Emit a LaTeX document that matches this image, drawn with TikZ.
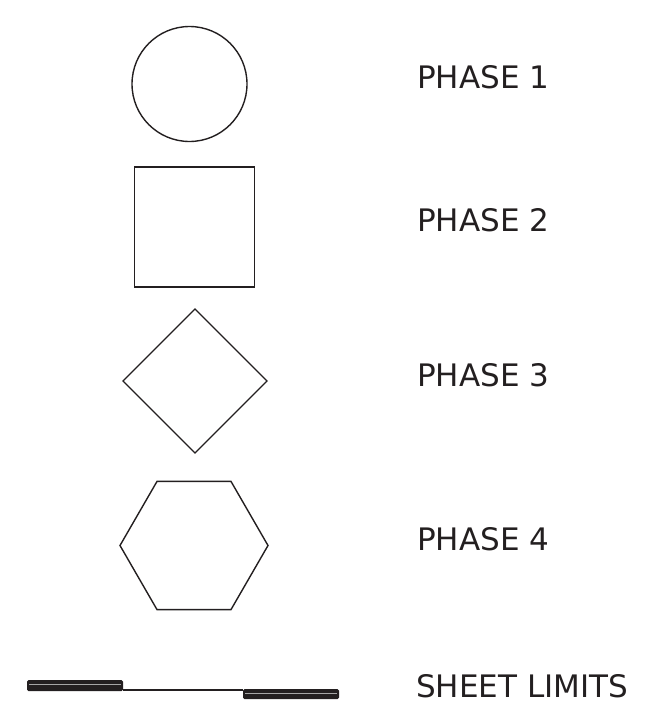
\documentclass[tikz,border=0pt]{standalone}
\usepackage{fontspec}
\setmainfont{DejaVu Sans}
\usepackage{tikz}
\usetikzlibrary{shapes.geometric,positioning}
\definecolor{inkblack}{HTML}{231F20}

\begin{document}
\begin{tikzpicture}[x=1pt, y=-1pt,
    symb/.style={draw=inkblack, line width=1.4pt, inner sep=0pt, outer sep=0pt},
    lbl/.style={anchor=base west, inner sep=0pt, text=inkblack, font=\fontsize{31}{37}\selectfont},
    bar/.style={fill=inkblack, rounded corners=1.5pt},
]
    \useasboundingbox (0,0) rectangle (652,720);
    % Phase symbols
    \node[symb, circle, minimum size=115pt] (phaseone) at (189.5,84) {};
    \node[symb, rectangle, minimum width=120pt, minimum height=120pt] (phasetwo) at (194.5,227) {};
    \node[symb, diamond, minimum width=144pt, minimum height=144pt] (phasethree) at (195,381) {};
    \node[symb, regular polygon, regular polygon sides=6, minimum size=148pt] (phasefour) at (194,545.5) {};
    % Labels
    \node[lbl] (lblone)   at (417,88)  {PHASE 1};
    \node[lbl] (lbltwo)   at (417,231) {PHASE 2};
    \node[lbl] (lblthree) at (417,386) {PHASE 3};
    \node[lbl] (lblfour)  at (417,550) {PHASE 4};
    \node[lbl] (lblsheet) at (416,697) {SHEET LIMITS};
    % Sheet limits symbol
    \coordinate (limleft) at (123,689.5);
    \coordinate (limright) at (243,689.5);
    \draw[inkblack, line width=2pt] (limleft) -- (limright);
    \fill[bar] (27,680) rectangle (123,691);
    \fill[bar] (243,689) rectangle (339,699);
    \draw[gray!70, line width=0.4pt] (29,684) -- (121,684);
    \draw[gray!70, line width=0.4pt] (245,693) -- (337,693);
\end{tikzpicture}
\end{document}
